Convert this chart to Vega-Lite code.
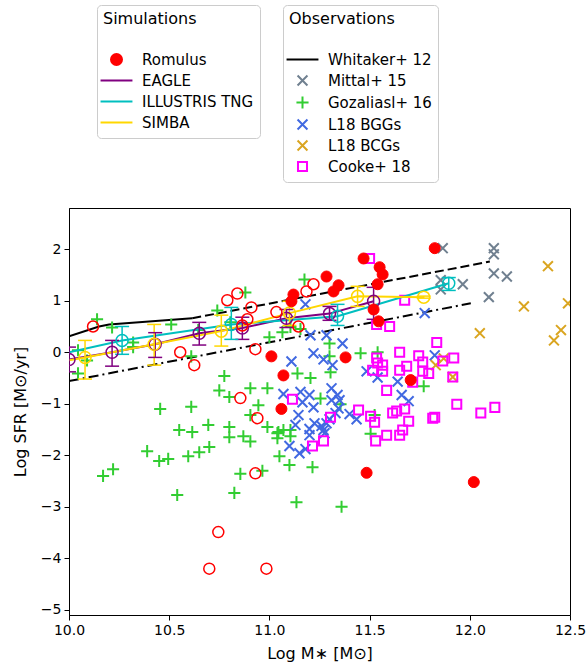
{
 "$schema": "https://vega.github.io/schema/vega-lite/v6.json",
 "width": 501, "height": 407,
 "autosize": {"type": "none"},
 "padding": {"left": 69, "top": 208, "right": 18, "bottom": 53},
 "config": {
  "font": "DejaVu Sans",
  "view": {"stroke": "black", "strokeWidth": 1},
  "axis": {"grid": false, "domainColor": "black", "tickColor": "black", "labelColor": "black", "titleColor": "black", "labelFontSize": 14, "titleFontSize": 16, "titleFontWeight": "normal", "tickSize": 5, "labelPadding": 3, "labelFlush": false, "labelOverlap": false},
  "legend": {"titleFontSize": 16, "titleFontWeight": "normal", "titleColor": "black", "labelFontSize": 15, "labelColor": "black", "strokeColor": "#cccccc", "fillColor": "white", "cornerRadius": 4, "padding": 6, "rowPadding": 2, "titlePadding": 25, "symbolSize": 121, "symbolStrokeWidth": 2, "symbolOffset": 6, "labelOffset": 18, "symbolDash": [], "symbolOpacity": 1, "labelLimit": 300}
 },
 "datasets": {
  "whit": [
   {"part": "solid", "x": 10.0, "y": 0.31}, {"part": "solid", "x": 10.15, "y": 0.50}, {"part": "solid", "x": 10.2, "y": 0.54}, {"part": "solid", "x": 10.615, "y": 0.66},
   {"part": "dashed", "x": 10.615, "y": 0.66}, {"part": "dashed", "x": 12.1, "y": 1.76},
   {"part": "dashdot", "x": 10.0, "y": -0.56}, {"part": "dashdot", "x": 12.005, "y": 0.95}
  ],
  "obs": [
   {"obs": "Mittal+ 15", "x": 11.865, "y": 2.02}, {"obs": "Mittal+ 15", "x": 12.12, "y": 2.02}, {"obs": "Mittal+ 15", "x": 12.12, "y": 1.90}, {"obs": "Mittal+ 15", "x": 12.12, "y": 1.53}, {"obs": "Mittal+ 15", "x": 12.185, "y": 1.47}, {"obs": "Mittal+ 15", "x": 11.965, "y": 1.32}, {"obs": "Mittal+ 15", "x": 11.855, "y": 1.40}, {"obs": "Mittal+ 15", "x": 11.855, "y": 1.22}, {"obs": "Mittal+ 15", "x": 12.095, "y": 1.07},
   {"obs": "Gozaliasl+ 16", "x": 10.14, "y": 0.64}, {"obs": "Gozaliasl+ 16", "x": 10.215, "y": 0.48}, {"obs": "Gozaliasl+ 16", "x": 10.51, "y": 0.54}, {"obs": "Gozaliasl+ 16", "x": 10.32, "y": 0.19}, {"obs": "Gozaliasl+ 16", "x": 10.32, "y": 0.10}, {"obs": "Gozaliasl+ 16", "x": 10.045, "y": 0.04}, {"obs": "Gozaliasl+ 16", "x": 10.09, "y": -0.16}, {"obs": "Gozaliasl+ 16", "x": 10.045, "y": -0.41}, {"obs": "Gozaliasl+ 16", "x": 10.645, "y": 0.43}, {"obs": "Gozaliasl+ 16", "x": 10.74, "y": 0.81}, {"obs": "Gozaliasl+ 16", "x": 10.805, "y": 0.58}, {"obs": "Gozaliasl+ 16", "x": 10.88, "y": 1.16}, {"obs": "Gozaliasl+ 16", "x": 10.61, "y": -0.08}, {"obs": "Gozaliasl+ 16", "x": 10.775, "y": -0.46}, {"obs": "Gozaliasl+ 16", "x": 11.175, "y": 1.41}, {"obs": "Gozaliasl+ 16", "x": 11.0, "y": 0.29}, {"obs": "Gozaliasl+ 16", "x": 11.065, "y": 0.39}, {"obs": "Gozaliasl+ 16", "x": 11.105, "y": 0.49}, {"obs": "Gozaliasl+ 16", "x": 11.155, "y": 0.45}, {"obs": "Gozaliasl+ 16", "x": 11.30, "y": 0.17}, {"obs": "Gozaliasl+ 16", "x": 11.30, "y": -0.08}, {"obs": "Gozaliasl+ 16", "x": 11.305, "y": -0.39}, {"obs": "Gozaliasl+ 16", "x": 11.14, "y": -0.41}, {"obs": "Gozaliasl+ 16", "x": 11.205, "y": -0.50}, {"obs": "Gozaliasl+ 16", "x": 11.455, "y": -0.02}, {"obs": "Gozaliasl+ 16", "x": 11.54, "y": 0.0}, {"obs": "Gozaliasl+ 16", "x": 11.77, "y": -0.66}, {"obs": "Gozaliasl+ 16", "x": 10.75, "y": -0.74}, {"obs": "Gozaliasl+ 16", "x": 10.80, "y": -0.87}, {"obs": "Gozaliasl+ 16", "x": 10.905, "y": -0.70}, {"obs": "Gozaliasl+ 16", "x": 10.99, "y": -0.70}, {"obs": "Gozaliasl+ 16", "x": 10.455, "y": -1.10}, {"obs": "Gozaliasl+ 16", "x": 10.61, "y": -1.06}, {"obs": "Gozaliasl+ 16", "x": 10.945, "y": -1.03}, {"obs": "Gozaliasl+ 16", "x": 10.905, "y": -1.22}, {"obs": "Gozaliasl+ 16", "x": 10.55, "y": -1.51}, {"obs": "Gozaliasl+ 16", "x": 10.615, "y": -1.55}, {"obs": "Gozaliasl+ 16", "x": 10.695, "y": -1.41}, {"obs": "Gozaliasl+ 16", "x": 10.80, "y": -1.45}, {"obs": "Gozaliasl+ 16", "x": 10.80, "y": -1.65}, {"obs": "Gozaliasl+ 16", "x": 10.87, "y": -1.63}, {"obs": "Gozaliasl+ 16", "x": 10.905, "y": -1.73}, {"obs": "Gozaliasl+ 16", "x": 10.99, "y": -1.45}, {"obs": "Gozaliasl+ 16", "x": 11.04, "y": -1.57}, {"obs": "Gozaliasl+ 16", "x": 11.105, "y": -1.51}, {"obs": "Gozaliasl+ 16", "x": 11.105, "y": -1.63}, {"obs": "Gozaliasl+ 16", "x": 10.39, "y": -1.92}, {"obs": "Gozaliasl+ 16", "x": 10.45, "y": -2.11}, {"obs": "Gozaliasl+ 16", "x": 10.495, "y": -2.07}, {"obs": "Gozaliasl+ 16", "x": 10.595, "y": -2.02}, {"obs": "Gozaliasl+ 16", "x": 10.65, "y": -1.94}, {"obs": "Gozaliasl+ 16", "x": 10.70, "y": -1.84}, {"obs": "Gozaliasl+ 16", "x": 10.17, "y": -2.40}, {"obs": "Gozaliasl+ 16", "x": 10.22, "y": -2.27}, {"obs": "Gozaliasl+ 16", "x": 10.855, "y": -2.36}, {"obs": "Gozaliasl+ 16", "x": 10.965, "y": -2.30}, {"obs": "Gozaliasl+ 16", "x": 11.05, "y": -2.02}, {"obs": "Gozaliasl+ 16", "x": 11.10, "y": -2.19}, {"obs": "Gozaliasl+ 16", "x": 11.215, "y": -2.23}, {"obs": "Gozaliasl+ 16", "x": 10.54, "y": -2.77}, {"obs": "Gozaliasl+ 16", "x": 10.825, "y": -2.73}, {"obs": "Gozaliasl+ 16", "x": 11.135, "y": -2.91}, {"obs": "Gozaliasl+ 16", "x": 11.36, "y": -3.0}, {"obs": "Gozaliasl+ 16", "x": 11.255, "y": -0.90}, {"obs": "Gozaliasl+ 16", "x": 11.355, "y": -1.01}, {"obs": "Gozaliasl+ 16", "x": 11.525, "y": -1.22}, {"obs": "Gozaliasl+ 16", "x": 11.505, "y": -1.58}, {"obs": "Gozaliasl+ 16", "x": 11.07, "y": -1.51}, {"obs": "Gozaliasl+ 16", "x": 11.045, "y": -1.55}, {"obs": "Gozaliasl+ 16", "x": 11.04, "y": -1.67},
   {"obs": "L18 BGGs", "x": 11.18, "y": 0.93}, {"obs": "L18 BGGs", "x": 11.775, "y": 0.76}, {"obs": "L18 BGGs", "x": 11.205, "y": 0.33}, {"obs": "L18 BGGs", "x": 11.285, "y": 0.33}, {"obs": "L18 BGGs", "x": 11.365, "y": 0.17}, {"obs": "L18 BGGs", "x": 11.22, "y": -0.02}, {"obs": "L18 BGGs", "x": 11.11, "y": -0.18}, {"obs": "L18 BGGs", "x": 11.27, "y": -0.14}, {"obs": "L18 BGGs", "x": 11.315, "y": -0.25}, {"obs": "L18 BGGs", "x": 11.485, "y": -0.37}, {"obs": "L18 BGGs", "x": 11.54, "y": -0.49}, {"obs": "L18 BGGs", "x": 11.64, "y": -0.57}, {"obs": "L18 BGGs", "x": 11.825, "y": -0.06}, {"obs": "L18 BGGs", "x": 11.07, "y": -0.81}, {"obs": "L18 BGGs", "x": 11.155, "y": -0.77}, {"obs": "L18 BGGs", "x": 11.2, "y": -0.83}, {"obs": "L18 BGGs", "x": 11.165, "y": -0.97}, {"obs": "L18 BGGs", "x": 11.22, "y": -1.07}, {"obs": "L18 BGGs", "x": 11.31, "y": -0.70}, {"obs": "L18 BGGs", "x": 11.34, "y": -0.83}, {"obs": "L18 BGGs", "x": 11.35, "y": -0.93}, {"obs": "L18 BGGs", "x": 11.31, "y": -0.93}, {"obs": "L18 BGGs", "x": 11.345, "y": -1.09}, {"obs": "L18 BGGs", "x": 11.33, "y": -1.18}, {"obs": "L18 BGGs", "x": 11.145, "y": -1.22}, {"obs": "L18 BGGs", "x": 11.40, "y": -1.20}, {"obs": "L18 BGGs", "x": 11.435, "y": -1.30}, {"obs": "L18 BGGs", "x": 11.30, "y": -1.30}, {"obs": "L18 BGGs", "x": 11.285, "y": -1.38}, {"obs": "L18 BGGs", "x": 11.225, "y": -1.38}, {"obs": "L18 BGGs", "x": 11.13, "y": -1.41}, {"obs": "L18 BGGs", "x": 11.26, "y": -1.43}, {"obs": "L18 BGGs", "x": 11.27, "y": -1.51}, {"obs": "L18 BGGs", "x": 11.2, "y": -1.49}, {"obs": "L18 BGGs", "x": 11.2, "y": -1.61}, {"obs": "L18 BGGs", "x": 11.275, "y": -1.57}, {"obs": "L18 BGGs", "x": 11.10, "y": -1.82}, {"obs": "L18 BGGs", "x": 11.15, "y": -1.96}, {"obs": "L18 BGGs", "x": 11.18, "y": -1.88}, {"obs": "L18 BGGs", "x": 11.66, "y": -0.83}, {"obs": "L18 BGGs", "x": 11.695, "y": -0.95},
   {"obs": "L18 BCGs", "x": 12.39, "y": 1.67}, {"obs": "L18 BCGs", "x": 12.27, "y": 0.89}, {"obs": "L18 BCGs", "x": 12.49, "y": 0.95}, {"obs": "L18 BCGs", "x": 12.05, "y": 0.37}, {"obs": "L18 BCGs", "x": 12.455, "y": 0.43}, {"obs": "L18 BCGs", "x": 12.42, "y": 0.23}, {"obs": "L18 BCGs", "x": 11.87, "y": -0.12}, {"obs": "L18 BCGs", "x": 11.83, "y": -0.25}, {"obs": "L18 BCGs", "x": 11.915, "y": -0.48},
   {"obs": "Cooke+ 18", "x": 11.50, "y": 1.82}, {"obs": "Cooke+ 18", "x": 11.675, "y": 1.01}, {"obs": "Cooke+ 18", "x": 11.535, "y": 0.54}, {"obs": "Cooke+ 18", "x": 11.60, "y": 0.50}, {"obs": "Cooke+ 18", "x": 11.835, "y": 0.19}, {"obs": "Cooke+ 18", "x": 11.65, "y": 0.0}, {"obs": "Cooke+ 18", "x": 11.745, "y": -0.07}, {"obs": "Cooke+ 18", "x": 11.535, "y": -0.11}, {"obs": "Cooke+ 18", "x": 11.92, "y": -0.11}, {"obs": "Cooke+ 18", "x": 11.565, "y": -0.25}, {"obs": "Cooke+ 18", "x": 11.685, "y": -0.27}, {"obs": "Cooke+ 18", "x": 11.765, "y": -0.19}, {"obs": "Cooke+ 18", "x": 11.865, "y": -0.17}, {"obs": "Cooke+ 18", "x": 11.515, "y": -0.35}, {"obs": "Cooke+ 18", "x": 11.565, "y": -0.37}, {"obs": "Cooke+ 18", "x": 11.65, "y": -0.35}, {"obs": "Cooke+ 18", "x": 11.765, "y": -0.37}, {"obs": "Cooke+ 18", "x": 11.795, "y": -0.41}, {"obs": "Cooke+ 18", "x": 11.715, "y": -0.58}, {"obs": "Cooke+ 18", "x": 11.915, "y": -0.48}, {"obs": "Cooke+ 18", "x": 11.585, "y": -0.74}, {"obs": "Cooke+ 18", "x": 11.935, "y": -1.01}, {"obs": "Cooke+ 18", "x": 11.445, "y": -1.12}, {"obs": "Cooke+ 18", "x": 11.675, "y": -1.10}, {"obs": "Cooke+ 18", "x": 11.635, "y": -1.14}, {"obs": "Cooke+ 18", "x": 11.615, "y": -1.18}, {"obs": "Cooke+ 18", "x": 11.505, "y": -1.24}, {"obs": "Cooke+ 18", "x": 11.525, "y": -1.36}, {"obs": "Cooke+ 18", "x": 11.695, "y": -1.34}, {"obs": "Cooke+ 18", "x": 11.815, "y": -1.28}, {"obs": "Cooke+ 18", "x": 11.825, "y": -1.26}, {"obs": "Cooke+ 18", "x": 12.055, "y": -1.18}, {"obs": "Cooke+ 18", "x": 12.125, "y": -1.07}, {"obs": "Cooke+ 18", "x": 11.665, "y": -1.51}, {"obs": "Cooke+ 18", "x": 11.585, "y": -1.61}, {"obs": "Cooke+ 18", "x": 11.65, "y": -1.61}, {"obs": "Cooke+ 18", "x": 11.53, "y": -1.72}, {"obs": "Cooke+ 18", "x": 11.215, "y": -1.82}, {"obs": "Cooke+ 18", "x": 11.27, "y": -1.72}, {"obs": "Cooke+ 18", "x": 11.305, "y": -1.26}, {"obs": "Cooke+ 18", "x": 11.115, "y": -0.91}, {"obs": "Cooke+ 18", "x": 11.54, "y": -0.21}
  ],
  "sims": [
   {"sim": "EAGLE", "x": 10.0, "y": -0.14, "lo": -0.38, "hi": 0.10},
   {"sim": "EAGLE", "x": 10.215, "y": 0.0, "lo": -0.27, "hi": 0.23},
   {"sim": "EAGLE", "x": 10.43, "y": 0.155, "lo": -0.10, "hi": 0.38},
   {"sim": "EAGLE", "x": 10.65, "y": 0.37, "lo": 0.14, "hi": 0.58},
   {"sim": "EAGLE", "x": 10.865, "y": 0.47, "lo": 0.25, "hi": 0.68},
   {"sim": "EAGLE", "x": 11.085, "y": 0.66, "lo": 0.48, "hi": 0.83},
   {"sim": "EAGLE", "x": 11.30, "y": 0.75, "lo": 0.62, "hi": 0.89},
   {"sim": "EAGLE", "x": 11.52, "y": 0.99, "lo": 0.64, "hi": 1.26},
   {"sim": "ILLUSTRIS TNG", "x": 10.0, "y": 0.0, "lo": null, "hi": null},
   {"sim": "ILLUSTRIS TNG", "x": 10.265, "y": 0.23, "lo": -0.04, "hi": 0.50},
   {"sim": "ILLUSTRIS TNG", "x": 10.81, "y": 0.54, "lo": 0.25, "hi": 0.87},
   {"sim": "ILLUSTRIS TNG", "x": 11.34, "y": 0.70, "lo": 0.52, "hi": 0.93},
   {"sim": "ILLUSTRIS TNG", "x": 11.895, "y": 1.34, "lo": 1.20, "hi": 1.45},
   {"sim": "SIMBA", "x": 10.0, "y": -0.155, "lo": null, "hi": null},
   {"sim": "SIMBA", "x": 10.08, "y": -0.10, "lo": -0.52, "hi": 0.23},
   {"sim": "SIMBA", "x": 10.425, "y": 0.155, "lo": -0.25, "hi": 0.54},
   {"sim": "SIMBA", "x": 10.76, "y": 0.41, "lo": 0.12, "hi": 0.72},
   {"sim": "SIMBA", "x": 11.10, "y": 0.76, "lo": 0.52, "hi": 0.99},
   {"sim": "SIMBA", "x": 11.44, "y": 1.085, "lo": 0.89, "hi": 1.28},
   {"sim": "SIMBA", "x": 11.77, "y": 1.07, "lo": 1.05, "hi": 1.09}
  ],
  "rom": [
   {"sim": "Romulus", "x": 11.825, "y": 2.02}, {"sim": "Romulus", "x": 11.47, "y": 1.82}, {"sim": "Romulus", "x": 11.55, "y": 1.65}, {"sim": "Romulus", "x": 11.565, "y": 1.51}, {"sim": "Romulus", "x": 11.285, "y": 1.47}, {"sim": "Romulus", "x": 11.345, "y": 1.30}, {"sim": "Romulus", "x": 11.32, "y": 1.18}, {"sim": "Romulus", "x": 11.54, "y": 1.32}, {"sim": "Romulus", "x": 11.52, "y": 0.83}, {"sim": "Romulus", "x": 11.545, "y": 0.60}, {"sim": "Romulus", "x": 11.12, "y": 1.12}, {"sim": "Romulus", "x": 11.11, "y": 0.99}, {"sim": "Romulus", "x": 11.01, "y": -0.08}, {"sim": "Romulus", "x": 11.38, "y": -0.10}, {"sim": "Romulus", "x": 11.07, "y": -0.45}, {"sim": "Romulus", "x": 11.705, "y": -0.54}, {"sim": "Romulus", "x": 11.06, "y": -1.10}, {"sim": "Romulus", "x": 11.485, "y": -2.34}, {"sim": "Romulus", "x": 12.02, "y": -2.52}
  ],
  "romo": [
   {"x": 10.12, "y": 0.50}, {"x": 10.79, "y": 1.01}, {"x": 10.84, "y": 1.14}, {"x": 10.91, "y": 0.87}, {"x": 10.89, "y": 0.64}, {"x": 10.865, "y": 0.52}, {"x": 10.555, "y": 0.0}, {"x": 10.625, "y": -0.25}, {"x": 10.93, "y": 0.06}, {"x": 11.035, "y": 0.78}, {"x": 11.145, "y": 0.50}, {"x": 11.185, "y": 1.18}, {"x": 11.22, "y": 1.32}, {"x": 10.855, "y": -0.89}, {"x": 10.94, "y": -1.28}, {"x": 10.93, "y": -2.35}, {"x": 10.745, "y": -3.49}, {"x": 10.70, "y": -4.2}, {"x": 10.985, "y": -4.2}
  ]
 },
 "encoding": {
  "x": {"field": "x", "type": "quantitative", "scale": {"domain": [10, 12.5], "nice": false, "zero": false}, "axis": {"title": "Log M∗ [M⊙]", "values": [10, 10.5, 11, 11.5, 12, 12.5], "format": ".1f", "titlePadding": 8}},
  "y": {"field": "y", "type": "quantitative", "scale": {"domain": [-5.1, 2.8], "nice": false, "zero": false}, "axis": {"title": "Log SFR [M⊙/yr]", "values": [-5, -4, -3, -2, -1, 0, 1, 2], "titlePadding": 12}}
 },
 "layer": [
  {"layer": [
   {"data": {"name": "whit"}, "transform": [{"filter": "datum.part == 'solid'"}], "mark": {"type": "line", "color": "black", "strokeWidth": 2, "clip": true}, "encoding": {}},
   {"data": {"name": "whit"}, "transform": [{"filter": "datum.part == 'dashed'"}], "mark": {"type": "line", "color": "black", "strokeWidth": 2, "strokeDash": [9, 4], "clip": true}, "encoding": {}},
   {"data": {"name": "whit"}, "transform": [{"filter": "datum.part == 'dashdot'"}], "mark": {"type": "line", "color": "black", "strokeWidth": 2, "strokeDash": [10, 4, 2, 4], "clip": true}, "encoding": {}},
   {"data": {"name": "obs"}, "mark": {"type": "point", "filled": false, "size": 121, "strokeWidth": 2, "opacity": 1, "clip": true},
    "encoding": {
     "stroke": {"field": "obs", "type": "nominal", "scale": {"domain": ["Whitaker+ 12", "Mittal+ 15", "Gozaliasl+ 16", "L18 BGGs", "L18 BCGs", "Cooke+ 18"], "range": ["#000000", "#708090", "#32cd32", "#4169e1", "#daa520", "#ff00ff"]}, "legend": {"title": "Observations", "orient": "none", "legendX": 214, "legendY": -203}},
     "shape": {"field": "obs", "type": "nominal", "scale": {"domain": ["Whitaker+ 12", "Mittal+ 15", "Gozaliasl+ 16", "L18 BGGs", "L18 BCGs", "Cooke+ 18"], "range": ["M-2.9,0L2.9,0M0,-0.9L0,-0.9M0,0.9L0,0.9", "M-0.9,-0.9L0.9,0.9M-0.9,0.9L0.9,-0.9", "M-1.1,0L1.1,0M0,-1.1L0,1.1", "M-0.9,-0.9L0.9,0.9M-0.9,0.9L0.9,-0.9", "M-0.9,-0.9L0.9,0.9M-0.9,0.9L0.9,-0.9", "M-0.82,-0.82L0.82,-0.82L0.82,0.82L-0.82,0.82Z"]}, "legend": {"title": "Observations", "orient": "none", "legendX": 214, "legendY": -203}}
    }}
  ]},
  {"layer": [
   {"data": {"name": "sims"}, "mark": {"type": "line", "strokeWidth": 2, "clip": true},
    "encoding": {"color": {"field": "sim", "type": "nominal", "scale": {"domain": ["EAGLE", "ILLUSTRIS TNG", "SIMBA"], "range": ["#800080", "#00bfbf", "#ffd700"]}, "legend": null}}},
   {"data": {"name": "sims"}, "transform": [{"filter": "datum.lo != null"}], "mark": {"type": "rule", "strokeWidth": 1.5, "clip": true},
    "encoding": {"y": {"field": "lo", "type": "quantitative", "title": "Log SFR [M⊙/yr]"}, "y2": {"field": "hi"}, "color": {"field": "sim", "type": "nominal", "scale": {"domain": ["EAGLE", "ILLUSTRIS TNG", "SIMBA"], "range": ["#800080", "#00bfbf", "#ffd700"]}, "legend": null}}},
   {"data": {"name": "sims"}, "transform": [{"filter": "datum.lo != null"}, {"fold": ["lo", "hi"], "as": ["k", "cap"]}], "mark": {"type": "point", "shape": "stroke", "size": 196, "filled": false, "strokeWidth": 1.5, "opacity": 1, "clip": true},
    "encoding": {"y": {"field": "cap", "type": "quantitative", "title": "Log SFR [M⊙/yr]"}, "color": {"field": "sim", "type": "nominal", "scale": {"domain": ["EAGLE", "ILLUSTRIS TNG", "SIMBA"], "range": ["#800080", "#00bfbf", "#ffd700"]}, "legend": null}}},
   {"data": {"name": "sims"}, "transform": [{"filter": "datum.lo != null"}], "mark": {"type": "point", "shape": "circle", "size": 144, "filled": false, "strokeWidth": 1.5, "opacity": 1, "clip": true},
    "encoding": {"color": {"field": "sim", "type": "nominal", "scale": {"domain": ["EAGLE", "ILLUSTRIS TNG", "SIMBA"], "range": ["#800080", "#00bfbf", "#ffd700"]}, "legend": null}}},
   {"data": {"name": "romo"}, "mark": {"type": "point", "shape": "circle", "size": 121, "filled": false, "stroke": "#ff0000", "strokeWidth": 1.5, "opacity": 1, "clip": true}, "encoding": {}},
   {"data": {"name": "rom"}, "mark": {"type": "point", "filled": true, "size": 121, "strokeWidth": 1, "opacity": 1, "clip": true},
    "encoding": {
     "fill": {"field": "sim", "type": "nominal", "scale": {"domain": ["Romulus", "EAGLE", "ILLUSTRIS TNG", "SIMBA"], "range": ["#ff0000", "#800080", "#00bfbf", "#ffd700"]}, "legend": {"title": "Simulations", "orient": "none", "legendX": 28, "legendY": -203}},
     "stroke": {"field": "sim", "type": "nominal", "scale": {"domain": ["Romulus", "EAGLE", "ILLUSTRIS TNG", "SIMBA"], "range": ["#ff0000", "#800080", "#00bfbf", "#ffd700"]}, "legend": {"title": "Simulations", "orient": "none", "legendX": 28, "legendY": -203}},
     "shape": {"field": "sim", "type": "nominal", "scale": {"domain": ["Romulus", "EAGLE", "ILLUSTRIS TNG", "SIMBA"], "range": ["circle", "M-2.9,0L2.9,0M0,-0.9L0,-0.9M0,0.9L0,0.9", "M-2.9,0L2.9,0M0,-0.9L0,-0.9M0,0.9L0,0.9", "M-2.9,0L2.9,0M0,-0.9L0,-0.9M0,0.9L0,0.9"]}, "legend": {"title": "Simulations", "orient": "none", "legendX": 28, "legendY": -203}}
    }}
  ]}
 ],
 "resolve": {"scale": {"stroke": "independent", "shape": "independent", "fill": "independent", "color": "independent"}}
}
